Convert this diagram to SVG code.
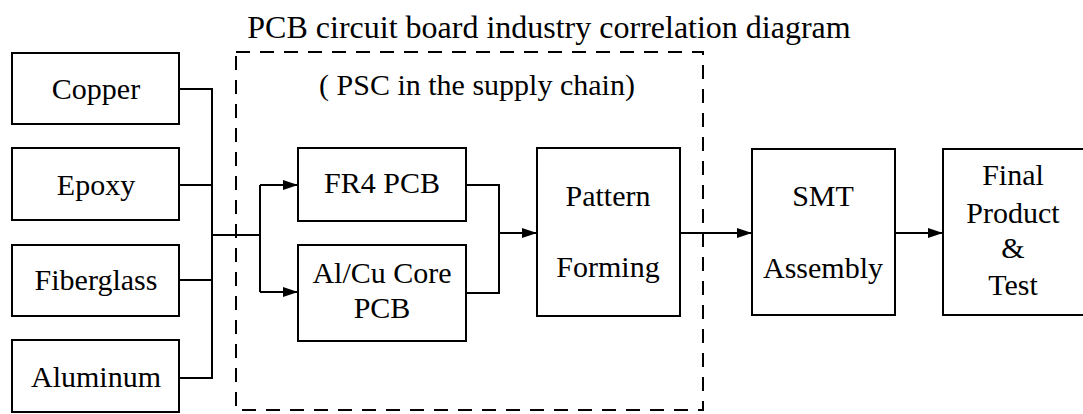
<svg xmlns="http://www.w3.org/2000/svg" width="1083" height="414" viewBox="0 0 1083 414">
<style>
.box{fill:#fff;stroke:#000;stroke-width:2}
.t{font-family:'Liberation Serif','DejaVu Serif',serif;font-size:30px;fill:#000;text-anchor:middle}
.title{font-size:32px}
.ln{fill:none;stroke:#000;stroke-width:2}
.arr{marker-end:url(#ah)}
.dash{fill:none;stroke:#000;stroke-width:2;stroke-dasharray:14 10}
</style>
<defs>
<marker id="ah" markerUnits="userSpaceOnUse" markerWidth="16" markerHeight="12" refX="15" refY="5" orient="auto">
<path d="M0,0 L15,5 L0,10 z" fill="#000"/>
</marker>
</defs>
<rect fill="#fff" width="1083" height="414"/>
<text class="t title" font-family="Liberation Serif" x="549" y="38">PCB circuit board industry correlation diagram</text>
<g id="supply-chain">
<rect class="dash" x="236" y="52" width="467" height="358"/>
<text class="t" x="477" y="95">( PSC in the supply chain)</text>
</g>
<g id="connectors">
<path class="ln" d="M179 89 H212 V378 H179 M179 185 H212 M179 280 H212 M212 235 H260 M260 185 V292"/>
<path class="ln arr" d="M260 185 H298"/>
<path class="ln arr" d="M260 292 H298"/>
<path class="ln" d="M466 185 H499 V293 H466"/>
<path class="ln arr" d="M499 233 H537"/>
<path class="ln arr" d="M680 233 H752"/>
<path class="ln arr" d="M895 233 H943"/>
</g>
<g id="copper"><rect class="box" x="12" y="53" width="167" height="71"/><text class="t" x="96" y="99">Copper</text></g>
<g id="epoxy"><rect class="box" x="12" y="148" width="167" height="72"/><text class="t" x="96" y="195">Epoxy</text></g>
<g id="fiberglass"><rect class="box" x="12" y="245" width="167" height="71"/><text class="t" x="96" y="290">Fiberglass</text></g>
<g id="aluminum"><rect class="box" x="12" y="340" width="167" height="72"/><text class="t" x="96" y="387">Aluminum</text></g>
<g id="fr4"><rect class="box" x="298" y="148" width="168" height="73"/><text class="t" x="382" y="193">FR4 PCB</text></g>
<g id="alcu"><rect class="box" x="298" y="245" width="168" height="96"/><text class="t" x="382" y="283">Al/Cu Core</text><text class="t" x="382" y="318">PCB</text></g>
<g id="pattern"><rect class="box" x="537" y="148" width="143" height="168"/><text class="t" x="608" y="206">Pattern</text><text class="t" x="608" y="277">Forming</text></g>
<g id="smt"><rect class="box" x="752" y="149" width="143" height="166"/><text class="t" x="823" y="206">SMT</text><text class="t" x="823" y="278">Assembly</text></g>
<g id="final"><rect class="box" x="943" y="149" width="142" height="166"/><text class="t" x="1013" y="185">Final</text><text class="t" x="1013" y="223">Product</text><text class="t" x="1013" y="258">&amp;</text><text class="t" x="1013" y="295">Test</text></g>
</svg>
